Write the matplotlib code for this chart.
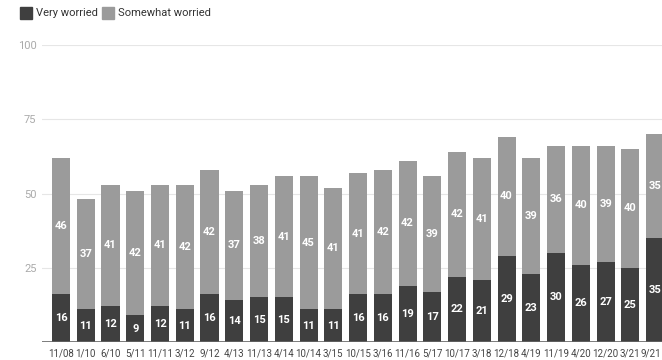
import numpy as np
import matplotlib
matplotlib.use("Agg")
from matplotlib import pyplot as plt
from matplotlib.patches import Rectangle
from matplotlib.transforms import ScaledTranslation

# survey waves
dates = ["11/08", "1/10", "6/10", "5/11", "11/11", "3/12", "9/12", "4/13", "11/13",
         "4/14", "10/14", "3/15", "10/15", "3/16", "11/16", "5/17", "10/17", "3/18",
         "12/18", "4/19", "11/19", "4/20", "12/20", "3/21", "9/21"]
very_worried = [16, 11, 12, 9, 12, 11, 16, 14, 15, 15, 11, 11, 16, 16, 19, 17, 22, 21,
                29, 23, 30, 26, 27, 25, 35]
somewhat_worried = [46, 37, 41, 42, 41, 42, 42, 37, 38, 41, 45, 41, 41, 42, 42, 39, 42, 41,
                    40, 39, 36, 40, 39, 40, 35]
yticks = [25, 50, 75, 100]

dark = "#3f3f3f"
light = "#9b9b9b"

plt.rcParams["font.family"] = ["Roboto", "DejaVu Sans"]

W, H = 662, 360
fig = plt.figure(figsize=(W / 100, H / 100), dpi=100)
ax = fig.add_axes([42 / W, 18 / H, 620 / W, 297 / H])

x = np.arange(len(dates))
very = np.array(very_worried)
some = np.array(somewhat_worried)
ax.bar(x, very, width=0.73, color=dark, zorder=3)
ax.bar(x, some, bottom=very, width=0.73, color=light, zorder=3)

for i in x:
    ax.text(i, very[i] / 2, str(very[i]), ha="center", va="center", color="white",
            fontsize=8, fontweight="bold", zorder=4)
    ax.text(i, very[i] + some[i] / 2, str(some[i]), ha="center", va="center",
            color="white", fontsize=8, fontweight="bold", zorder=4)

ax.set_xlim(-0.768, 24.28)
ax.set_ylim(0, 100)
for s in ax.spines.values():
    s.set_visible(False)
ax.axhline(0, color="#666666", lw=1.2, zorder=5)
for t in yticks:
    ax.axhline(t, color="#e6e6e6", lw=0.8, zorder=1)

ax.set_yticks(yticks)
ax.set_yticklabels([str(t) for t in yticks], color="#aaaaaa", fontsize=8)
ax.set_xticks(x)
ax.set_xticklabels(dates, color="#444444", fontsize=7)
ax.tick_params(length=0)
ax.tick_params(axis="y", pad=4)
ax.tick_params(axis="x", pad=5)
# keep the last date inside the canvas
last = ax.get_xticklabels()[-1]
last.set_transform(last.get_transform() + ScaledTranslation(-4 / 100, 0, fig.dpi_scale_trans))

# legend
fig.patches.append(Rectangle((20 / W, 1 - 19 / H), 12 / W, 12 / H, color=dark,
                             transform=fig.transFigure))
fig.text(36 / W, 1 - 13 / H, "Very worried", va="center", fontsize=8, color="#333333")
fig.patches.append(Rectangle((102 / W, 1 - 19 / H), 12 / W, 12 / H, color=light,
                             transform=fig.transFigure))
fig.text(118 / W, 1 - 13 / H, "Somewhat worried", va="center", fontsize=8, color="#333333")

fig.savefig("out.png", dpi=100)
